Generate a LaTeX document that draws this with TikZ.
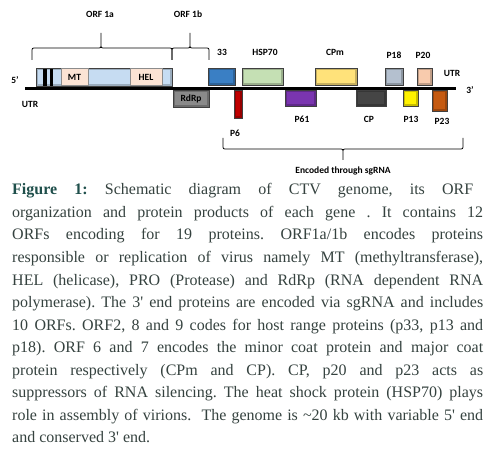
\documentclass[tikz,border=0pt]{standalone}
\usepackage{fontspec}
\setmainfont{Liberation Serif}
\newfontfamily\labfont{Carlito}
\definecolor{capcol}{HTML}{35423F}
\definecolor{figcol}{HTML}{1F4F4B}
\definecolor{orfblue}{HTML}{C6DCF2}
\definecolor{peach}{HTML}{FBE3D4}
\definecolor{rdrpgray}{HTML}{8A8A8A}
\definecolor{b33}{HTML}{3A7FC4}
\definecolor{p6red}{HTML}{C00000}
\definecolor{hspgreen}{HTML}{C5E0B4}
\definecolor{p61purple}{HTML}{7A35B0}
\definecolor{cpmyellow}{HTML}{FFE27A}
\definecolor{cpdark}{HTML}{454545}
\definecolor{p18gray}{HTML}{B4C0CF}
\definecolor{p13yellow}{HTML}{FFF200}
\definecolor{p20peach}{HTML}{F8CBAD}
\definecolor{p23brown}{HTML}{C55A11}
\frenchspacing
\begin{document}
\begin{tikzpicture}[x=1bp,y=-1bp,
  gbox/.style={draw=black!75, line width=0.7bp, inner sep=0pt, fill=#1!78!black,
    path picture={\fill[#1] ([shift={(1.8bp,-1.8bp)}]path picture bounding box.north west) rectangle ([shift={(-1.8bp,1.8bp)}]path picture bounding box.south east);}},
  subbox/.style={draw=black!45, line width=0.5bp, fill=peach, inner sep=0pt, font=\labfont\bfseries\fontsize{9.5bp}{11bp}\selectfont},
  lab/.style={font=\labfont\bfseries\fontsize{9.5bp}{11bp}\selectfont, text=black, inner sep=0pt},
  brc/.style={line width=0.8bp, draw=black},
  capline/.style={anchor=base west, inner sep=0pt, text=capcol, font=\fontsize{16bp}{18bp}\selectfont\frenchspacing}]
\useasboundingbox (0,0) rectangle (493,453);
\fill[white] (0,0) rectangle (493,453);
% genome line
\coordinate (g5) at (25,88.3);
\coordinate (g3) at (456,88.3);
\draw[line width=3.3bp] (g5) -- (g3);
% ORF1a box
\node[gbox=orfblue, minimum width=136bp, minimum height=18bp] (orf1a) at (104,77) {};
\fill[black] (43,69) rectangle (46.5,86);
\fill[black] (49.5,69) rectangle (53,86);
\node[subbox, minimum width=27bp, minimum height=16.5bp] (mt) at (74.5,77) {MT};
\node[subbox, minimum width=32bp, minimum height=16.5bp] (hel) at (146,77) {HEL};
% other boxes
\node[gbox=rdrpgray, minimum width=36bp, minimum height=17bp, lab] (rdrp) at (191,98.5) {RdRp};
\node[gbox=b33, minimum width=27bp, minimum height=17bp] (p33) at (221.5,76.5) {};
\node[gbox=p6red, minimum width=8bp, minimum height=28bp] (p6) at (238,104) {};
\node[gbox=hspgreen, minimum width=41bp, minimum height=17bp] (hsp) at (262.5,76.5) {};
\node[gbox=p61purple, minimum width=31bp, minimum height=16bp] (p61) at (300.5,98) {};
\node[gbox=cpmyellow, minimum width=42bp, minimum height=17bp] (cpm) at (336,76.5) {};
\node[gbox=cpdark, minimum width=30bp, minimum height=16bp] (cp) at (371,98) {};
\node[gbox=p18gray, minimum width=18bp, minimum height=17bp] (p18) at (394,76.5) {};
\node[gbox=p13yellow, minimum width=15bp, minimum height=16bp] (p13) at (410.5,98) {};
\node[gbox=p20peach, minimum width=15bp, minimum height=17bp] (p20) at (424.5,76.5) {};
\node[gbox=p23brown, minimum width=15bp, minimum height=21bp] (p23) at (439.5,100.5) {};
% labels
\node[lab] (lorf1a) at (100,14) {ORF 1a};
\node[lab] (lorf1b) at (188,14) {ORF 1b};
\node[lab] (l33) at (222,52) {33};
\node[lab] (lhsp) at (265,52) {HSP70};
\node[lab] (lcpm) at (335,52) {CPm};
\node[lab] (lp18) at (394,55) {P18};
\node[lab] (lp20) at (423,55) {P20};
\node[lab] (lutr3) at (452,73) {UTR};
\node[lab] (l3) at (470,90) {3’};
\node[lab] (l5) at (15,80) {5’};
\node[lab] (lutr5) at (30,104) {UTR};
\node[lab] (lp6) at (235,133) {P6};
\node[lab] (lp61) at (302,119) {P61};
\node[lab] (lcp) at (369,119) {CP};
\node[lab] (lp13) at (411,119) {P13};
\node[lab] (lp23) at (442,121) {P23};
\node[lab] (lsg) at (343,171) {Encoded through sgRNA};
% braces
\draw[brc] (32,60) -- (32,52) .. controls (32,48) .. (36,48) -- (97,48) .. controls (101,48) .. (101,44) -- (101,33) -- (101,44) .. controls (101,48) .. (105,48) -- (168,48) .. controls (172,48) .. (172,52) -- (172,60);
\draw[brc] (172,60) -- (172,52) .. controls (172,48) .. (176,48) -- (186,48) .. controls (190,48) .. (190,44) -- (190,33) -- (190,44) .. controls (190,48) .. (194,48) -- (205,48) .. controls (209,48) .. (209,52) -- (209,60);
\draw[brc] (223,138) -- (223,145) .. controls (223,149) .. (227,149) -- (339,149) .. controls (343,149) .. (343,153) -- (343,160) -- (343,153) .. controls (343,149) .. (347,149) -- (459,149) .. controls (463,149) .. (463,145) -- (463,138);
% caption
\node[capline] (c1) at (12,195) {\makebox[461bp][s]{\textcolor{figcol}{\textbf{Figure 1:}} Schematic diagram of CTV genome, its ORF}};
\node[capline] (c2) at (12,217.5) {\makebox[471bp][s]{organization and protein products of each gene . It contains 12}};
\node[capline] (c3) at (12,240) {\makebox[471bp][s]{ORFs encoding for 19 proteins. ORF1a/1b encodes proteins}};
\node[capline] (c4) at (12,262.5) {\makebox[471bp][s]{responsible or replication of virus namely MT (methyltransferase),}};
\node[capline] (c5) at (12,285) {\makebox[471bp][s]{HEL (helicase), PRO (Protease) and RdRp (RNA dependent RNA}};
\node[capline] (c6) at (12,307.5) {\makebox[471bp][s]{polymerase). The 3\textquotesingle{} end proteins are encoded via sgRNA and includes}};
\node[capline] (c7) at (12,330) {\makebox[471bp][s]{10 ORFs. ORF2, 8 and 9 codes for host range proteins (p33, p13 and}};
\node[capline] (c8) at (12,352.5) {\makebox[471bp][s]{p18). ORF 6 and 7 encodes the minor coat protein and major coat}};
\node[capline] (c9) at (12,375) {\makebox[471bp][s]{protein respectively (CPm and CP). CP, p20 and p23 acts as}};
\node[capline] (c10) at (12,397.5) {\makebox[471bp][s]{suppressors of RNA silencing. The heat shock protein (HSP70) plays}};
\node[capline] (c11) at (12,420) {\makebox[471bp][s]{role in assembly of virions.\ \ The genome is \textasciitilde20 kb with variable 5\textquotesingle{} end}};
\node[capline] (c12) at (12,442.5) {and conserved 3\textquotesingle{} end.};
\end{tikzpicture}
\end{document}
